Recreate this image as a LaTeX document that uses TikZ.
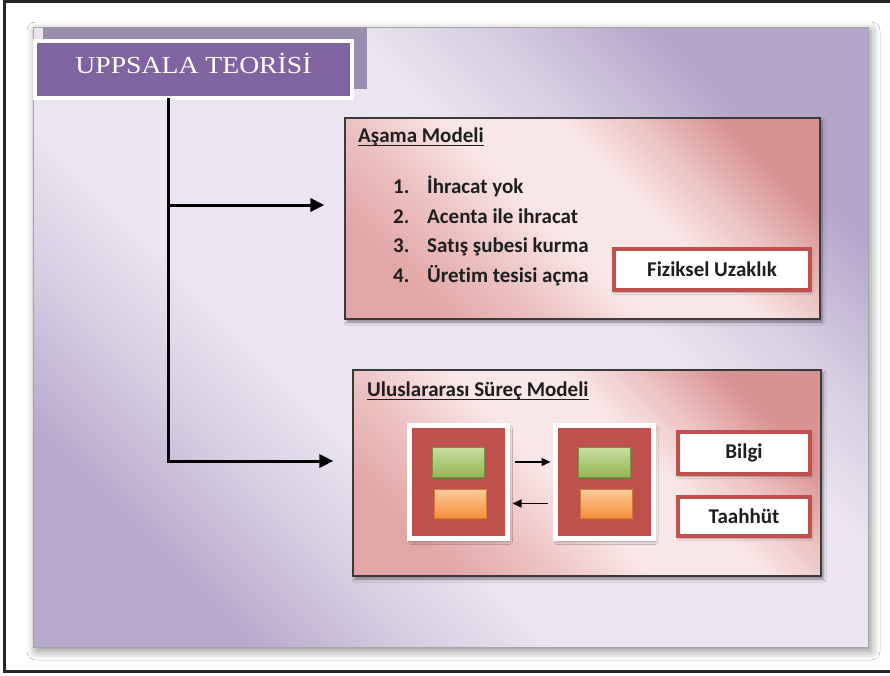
\documentclass[tikz,border=0pt]{standalone}
\usepackage{fontspec}
\usepackage{graphicx}
\setmainfont{Carlito}[Ligatures=NoCommon]
\newfontfamily\titlefont{Liberation Serif}
\usetikzlibrary{arrows.meta,shadows,shadows.blur,calc}
\definecolor{framecol}{HTML}{262626}
\definecolor{slidedark}{HTML}{B5A5CA}
\definecolor{slidemid}{HTML}{D6CDE2}
\definecolor{slidelight}{HTML}{EAE5F0}
\definecolor{slidedarkb}{HTML}{B8A8CC}
\definecolor{titlepurple}{HTML}{8064A2}
\definecolor{titleshadow}{HTML}{9A8EAE}
\definecolor{boxdark}{HTML}{D99292}
\definecolor{boxmid}{HTML}{EDC3C3}
\definecolor{boxlight}{HTML}{F9E6E6}
\definecolor{boxbottom}{HTML}{E3A6A6}
\definecolor{boxborder}{HTML}{3A3A3A}
\definecolor{sqred}{HTML}{C0504D}
\definecolor{textdark}{HTML}{1E1E1E}
\definecolor{greentop}{HTML}{C9DEA3}
\definecolor{greenbot}{HTML}{95B653}
\definecolor{greenedge}{HTML}{5E7A2C}
\definecolor{orangetop}{HTML}{FCCB9C}
\definecolor{orangebot}{HTML}{F68F3C}
\definecolor{orangeedge}{HTML}{B95F17}
\pgfdeclareverticalshading{slideshade}{100bp}{color(0bp)=(slidedarkb); color(25bp)=(slidedarkb);
  color(33bp)=(slidemid); color(40bp)=(slidelight); color(60bp)=(slidelight); color(67bp)=(slidemid);
  color(75bp)=(slidedark); color(100bp)=(slidedark)}
\pgfdeclareverticalshading{boxshade}{100bp}{color(0bp)=(boxbottom); color(25bp)=(boxbottom);
  color(36bp)=(boxmid); color(46bp)=(boxlight); color(58bp)=(boxlight); color(66bp)=(boxmid);
  color(75bp)=(boxdark); color(100bp)=(boxdark)}
\tikzset{
  trunkline/.style={line width=3pt, draw=black},
  mainarrow/.style={line width=3pt, draw=black, -{Triangle[length=14pt,width=13pt]}},
  smallarrow/.style={line width=1.4pt, draw=black, -{Triangle[length=9pt,width=8pt]}},
  modelbox/.style={draw=boxborder, line width=1.2pt, shade, shading=boxshade, shading angle=-45,
    blur shadow={shadow xshift=2pt,shadow yshift=-3pt,shadow blur radius=3pt,shadow opacity=45},
    inner sep=0pt},
  bodyfont/.style={font=\fontsize{21}{24}\selectfont\bfseries, text=textdark},
  bodytext/.style={bodyfont, inner sep=0pt, anchor=base west},
  labelbox/.style={bodyfont, draw=sqred, line width=4pt, fill=white, inner sep=0pt,
    blur shadow={shadow xshift=1pt,shadow yshift=-2pt,shadow blur radius=2pt,shadow opacity=35}},
  actorsq/.style={fill=sqred, draw=white, line width=5pt, minimum width=98pt, minimum height=113pt,
    inner sep=0pt, blur shadow={shadow xshift=2pt,shadow yshift=-3pt,shadow blur radius=3pt,shadow opacity=35}},
  greenbar/.style={shade, top color=greentop, bottom color=greenbot, draw=greenbot!80!black, line width=0.5pt,
    minimum width=52pt, minimum height=30pt, inner sep=0pt,
    drop shadow={shadow xshift=0pt, shadow yshift=-2pt, fill=greenedge, opacity=1}},
  orangebar/.style={shade, top color=orangetop, bottom color=orangebot, draw=orangebot!85!black, line width=0.5pt,
    minimum width=52pt, minimum height=29pt, inner sep=0pt,
    drop shadow={shadow xshift=0pt, shadow yshift=-2pt, fill=orangeedge, opacity=1}},
}
\begin{document}
\begin{tikzpicture}[x=1pt,y=-1pt]
\useasboundingbox (0,0) rectangle (890,675);
\fill[white] (0,0) rectangle (890,675);
\draw[framecol, line width=3pt] (4,1.5) rectangle (896,671);

% slide
\path[blur shadow={shadow xshift=3pt,shadow yshift=-4pt,shadow blur radius=9pt,shadow opacity=45}]
  (33,27) rectangle (868,647);
\shade[shading=slideshade, shading angle=-45] (33,27) rectangle (868,647);
\draw[gray!70, line width=0.6pt] (33,27) rectangle (868,647);

% title
\fill[titleshadow] (43,27) rectangle (367,89);
\node[draw=white, line width=4pt, fill=titlepurple, minimum width=317pt, minimum height=57pt,
  inner sep=0pt, text=white, font=\titlefont\fontsize{24.5}{28}\selectfont] (title) at (193.5,69.5)
  {\raisebox{-4pt}[0pt][0pt]{\scalebox{1.13}[1]{UPPSALA TEORİSİ}}};

% model boxes
\node[modelbox, minimum width=475pt, minimum height=201pt] (box1) at (582.5,218.5) {};
\node[modelbox, minimum width=468pt, minimum height=206pt] (box2) at (587,473) {};

% trunk and arrows
\coordinate (ttop) at (168,98);
\coordinate (tmid) at (168,205);
\coordinate (tbot) at (168,461);
\draw[trunkline] (ttop) -- (tbot);
\draw[mainarrow, shorten >=20pt] (tmid) -- (tmid -| box1.west);
\draw[mainarrow, shorten >=19pt, line join=miter] ([yshift=1.5pt]tbot) -- (tbot) -- (tbot -| box2.west);

% box 1 content
\node[bodytext] (asama) at (358,142) {Aşama Modeli};
\draw[line width=1.3pt, textdark] ([yshift=-3.5pt]asama.base west) -- ([yshift=-3.5pt]asama.base east);
\node[bodytext] (n1) at (393,193) {1.};
\node[bodytext] (i1) at (427,193) {İhracat yok};
\node[bodytext] (n2) at (393,223) {2.};
\node[bodytext] (i2) at (427,223) {Acenta ile ihracat};
\node[bodytext] (n3) at (393,252) {3.};
\node[bodytext] (i3) at (427,252) {Satış şubesi kurma};
\node[bodytext] (n4) at (393,282) {4.};
\node[bodytext] (i4) at (427,282) {Üretim tesisi açma};
\node[labelbox, minimum width=196pt, minimum height=41pt] (fiz) at (712,269.5) {Fiziksel Uzaklık};

% box 2 content
\node[bodytext] (ulus) at (367,396) {Uluslararası Süreç Modeli};
\draw[line width=1.3pt, textdark] ([yshift=-3.5pt]ulus.base west) -- ([yshift=-3.5pt]ulus.base east);
\node[actorsq] (sq1) at (458.5,482) {};
\node[actorsq] (sq2) at (604,482) {};
\node[greenbar] (g1) at (458,462) {};
\node[orangebar] (o1) at (460,503.5) {};
\node[greenbar] (g2) at (604,462) {};
\node[orangebar] (o2) at (606,503.5) {};
\draw[smallarrow, shorten <=4.5pt, shorten >=2pt] (g1 -| sq1.east) -- (g1 -| sq2.west);
\draw[smallarrow, shorten <=5pt, shorten >=2.5pt] (o2 -| sq2.west) -- (o1 -| sq1.east);
\node[labelbox, minimum width=132pt, minimum height=42pt] (bilgi) at (744,453) {Bilgi};
\node[labelbox, minimum width=132pt, minimum height=39pt] (taah) at (744,516.5) {Taahhüt};
\end{tikzpicture}
\end{document}
